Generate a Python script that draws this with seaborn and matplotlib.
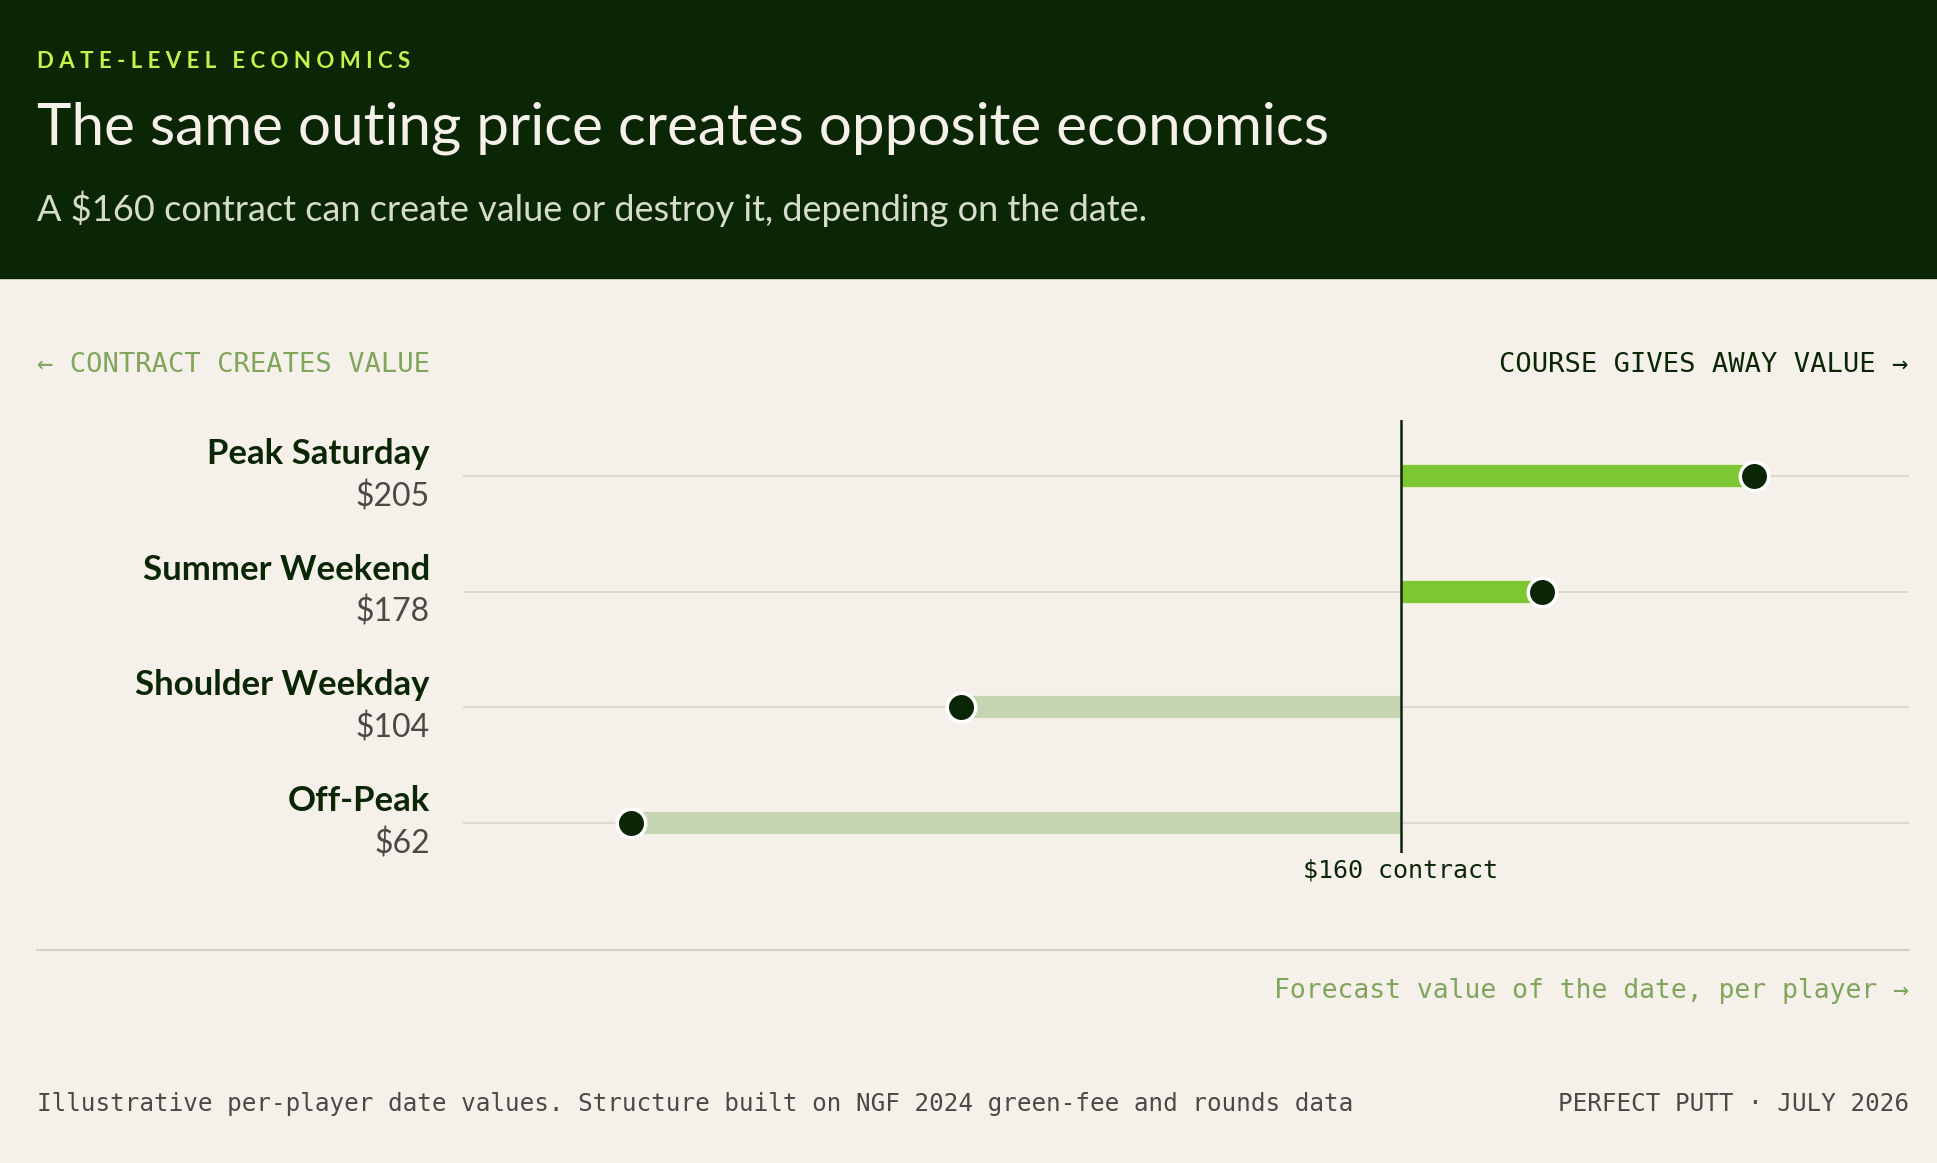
import matplotlib
matplotlib.use("Agg")
import matplotlib.pyplot as plt
import pandas as pd
import seaborn as sns

# data
dates = ["Peak Saturday", "Summer Weekend", "Shoulder Weekday", "Off-Peak"]
values = [205, 178, 104, 62]
contract = 160

BG = "#F5F0EA"
DARK = "#0B2605"
BRIGHT = "#7DC832"
PALE = "#C5D4B2"
MUTED = "#7FA65A"
W, H = 1568, 941

sns.set_theme(style="white")
plt.rcParams["font.family"] = ["Lato", "DejaVu Sans"]
MONO = ["DejaVu Sans Mono"]

fig = plt.figure(figsize=(19.37, 11.63), dpi=100, facecolor=BG)


def fx(px):
    return px / W


def fy(py):
    return 1 - py / H


# header band
fig.patches.append(plt.Rectangle((0, fy(225)), 1, 225 / H, transform=fig.transFigure,
                                 color=DARK, zorder=0))
fig.text(fx(30), fy(50), "D A T E - L E V E L   E C O N O M I C S", color="#C6F24E",
         fontsize=16, fontweight="bold", va="center")
fig.text(fx(30), fy(104), "The same outing price creates opposite economics", color="#F5F0EA",
         fontsize=42, va="center")
fig.text(fx(30), fy(169), "A $160 contract can create value or destroy it, depending on the date.",
         color="#D5DCCB", fontsize=26, va="center")

# direction labels
fig.text(fx(30), fy(295), "← CONTRACT CREATES VALUE", color=MUTED, fontsize=19.5,
         family=MONO, va="center")
fig.text(fx(1545), fy(295), "COURSE GIVES AWAY VALUE →", color=DARK, fontsize=19.5,
         family=MONO, va="center", ha="right")

ax = fig.add_axes([fx(375), fy(690), fx(1545) - fx(375), (690 - 340) / H])
ax.set_facecolor(BG)
ax.set_xlim(40.6, 224.7)
ax.set_ylim(3.256, -0.48)
df = pd.DataFrame({"date": dates, "value": values, "row": range(len(dates))})

lab = ax.get_yaxis_transform()
for _, r in df.iterrows():
    ax.axhline(r["row"], color="#DEDAD3", lw=1.5, zorder=0)
    col = BRIGHT if r["value"] >= contract else PALE
    ax.hlines(r["row"], contract, r["value"], color=col, lw=16, capstyle="butt", zorder=1)
    ax.text(-0.0231, r["row"] - 0.19, r["date"], transform=lab, ha="right", va="center",
            fontsize=25, fontweight="bold", color=DARK, clip_on=False)
    ax.text(-0.0231, r["row"] + 0.18, f"${r['value']}", transform=lab, ha="right",
            va="center", fontsize=23, color="#4A4A44", clip_on=False)

sns.scatterplot(data=df, x="value", y="row", ax=ax, s=420, color=DARK,
                edgecolor="white", linewidth=2.5, zorder=3, legend=False)
ax.axvline(contract, color=DARK, lw=1.8, zorder=2)
ax.axis("off")

fig.text(fx(1134), fy(704), "$160 contract", ha="center", va="center", fontsize=18,
         family=MONO, color=DARK)

# bottom rule and axis caption
fig.add_artist(plt.Line2D([fx(30), fx(1545)], [fy(769), fy(769)], color="#D3CFC8", lw=1.5))
fig.text(fx(1545), fy(802), "Forecast value of the date, per player →", ha="right",
         va="center", fontsize=19, family=MONO, color=MUTED)

# footer
fig.text(fx(30), fy(893), "Illustrative per-player date values. Structure built on NGF 2024 green-fee and rounds data",
         va="center", fontsize=17.5, family=MONO, color="#4A4A44")
fig.text(fx(1545), fy(893), "PERFECT PUTT · JULY 2026", ha="right", va="center",
         fontsize=17.5, family=MONO, color="#4A4A44")

fig.savefig("out.png", dpi=100, facecolor=BG)
